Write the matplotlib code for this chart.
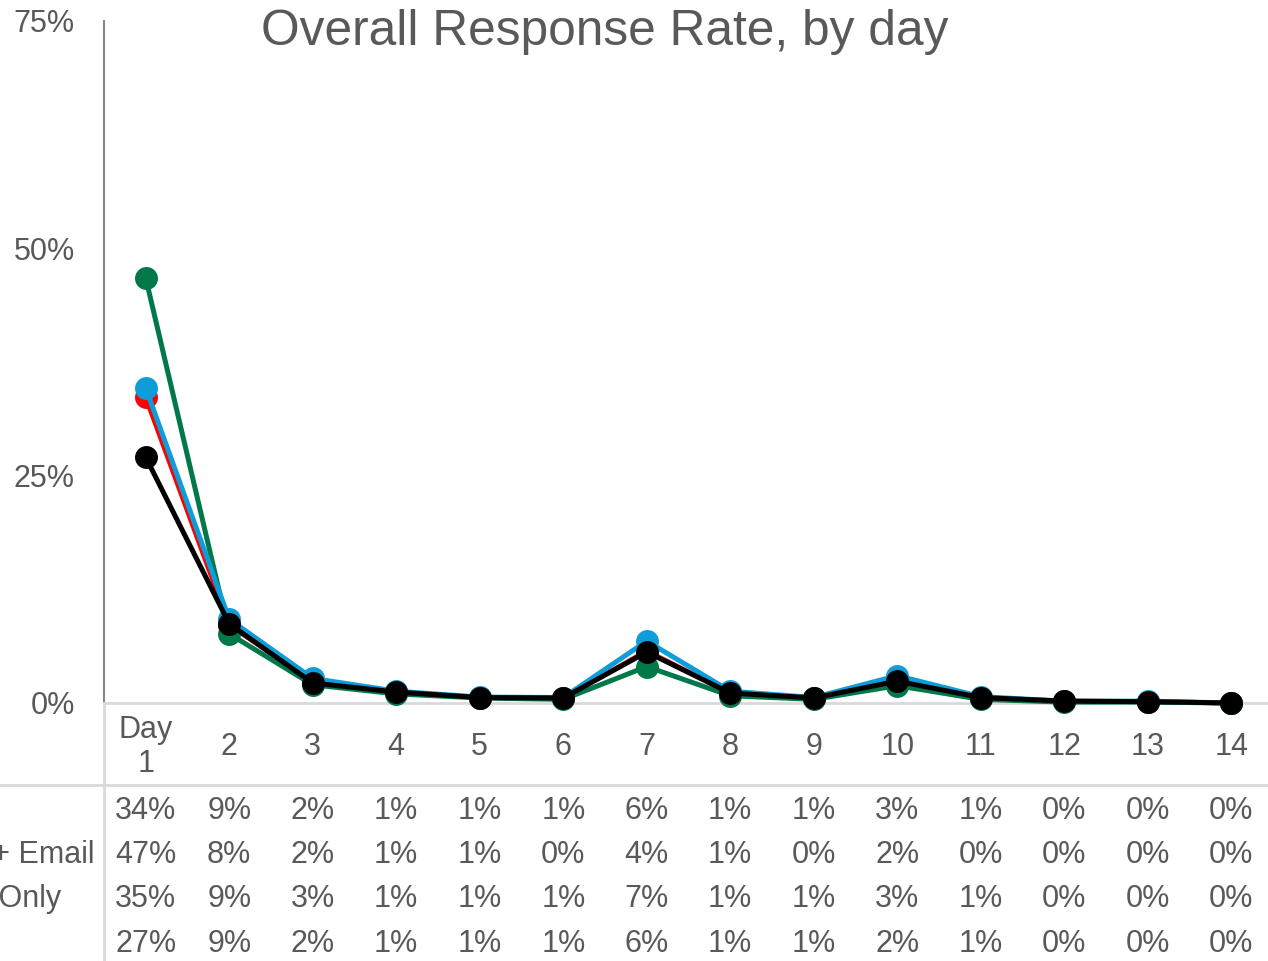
import matplotlib.pyplot as plt
from matplotlib.lines import Line2D
from matplotlib.transforms import blended_transform_factory

plt.rcParams['font.family'] = ['Liberation Sans', 'DejaVu Sans']

days = ['Day\n1', '2', '3', '4', '5', '6', '7', '8', '9', '10', '11', '12', '13', '14']
series = ['Mail', 'Mail + Email', 'Web Only', 'Total']
colors = ['#ff0000', '#00784a', '#0e9dd8', '#000000']

mail = [0.336, 0.086, 0.023, 0.012, 0.006, 0.0055, 0.057, 0.011, 0.0055, 0.026, 0.006, 0.002, 0.0015, 0.0]
mail_email = [0.467, 0.076, 0.020, 0.010, 0.0055, 0.004, 0.040, 0.008, 0.004, 0.019, 0.004, 0.001, 0.001, 0.0]
web_only = [0.346, 0.092, 0.027, 0.013, 0.0065, 0.006, 0.068, 0.013, 0.006, 0.030, 0.007, 0.002, 0.002, 0.0]
total = [0.270, 0.087, 0.022, 0.012, 0.006, 0.0055, 0.056, 0.011, 0.0055, 0.024, 0.006, 0.002, 0.0015, 0.0]
values = [mail, mail_email, web_only, total]

W, H = 1268, 961
txt = '#595959'
fs = 22

fig = plt.figure(figsize=(W / 100, H / 100), dpi=100)
ax = fig.add_axes([104 / W, (H - 703) / H, (1273 - 104) / W, 682.5 / H])

x = list(range(len(days)))
for vals, c in zip(values, colors):
    ax.plot(x, vals, color=c, lw=3.6, marker='o', ms=15.5, solid_capstyle='round',
            clip_on=False, zorder=3)

ax.set_xlim(-0.5, len(days) - 0.5)
ax.set_ylim(0, 0.75)
ax.set_yticks([0, 0.25, 0.5, 0.75])
ax.set_yticklabels(['0%', '25%', '50%', '75%'])
ax.tick_params(axis='y', length=0, pad=21, labelsize=fs, labelcolor=txt)
ax.set_xticks([])
for s in ['top', 'right']:
    ax.spines[s].set_visible(False)
ax.spines['left'].set_color('#868686')
ax.spines['left'].set_linewidth(1.5)
ax.spines['bottom'].set_color('#d9d9d9')
ax.spines['bottom'].set_linewidth(2)

# category labels
trans = blended_transform_factory(ax.transData, fig.transFigure)
for i, d in enumerate(days):
    ax.text(i, (H - 747) / H, d, transform=trans, ha='center', va='center',
            fontsize=fs, color=txt, linespacing=1.2, multialignment='center')

# data table below the chart
row_y = [811, 855, 899, 944]
for name, vals, ry in zip(series, values, row_y):
    fig.text(-72 / W, (H - ry) / H, name, ha='left', va='center', fontsize=fs, color=txt)
    for i, v in enumerate(vals):
        ax.text(i, (H - ry) / H, f'{v:.0%}', transform=trans, ha='center', va='center',
                fontsize=fs, color=txt)

fig.add_artist(Line2D([0, 1], [(H - 785) / H] * 2, color='#d9d9d9', lw=2,
                      transform=fig.transFigure))
fig.add_artist(Line2D([104 / W] * 2, [0, (H - 703) / H], color='#d9d9d9', lw=2,
                      transform=fig.transFigure))

fig.text(605 / W, (H - 45) / H, 'Overall Response Rate, by day', ha='center',
         va='baseline', fontsize=35.7, color=txt)

fig.savefig('out.png', dpi=100)
